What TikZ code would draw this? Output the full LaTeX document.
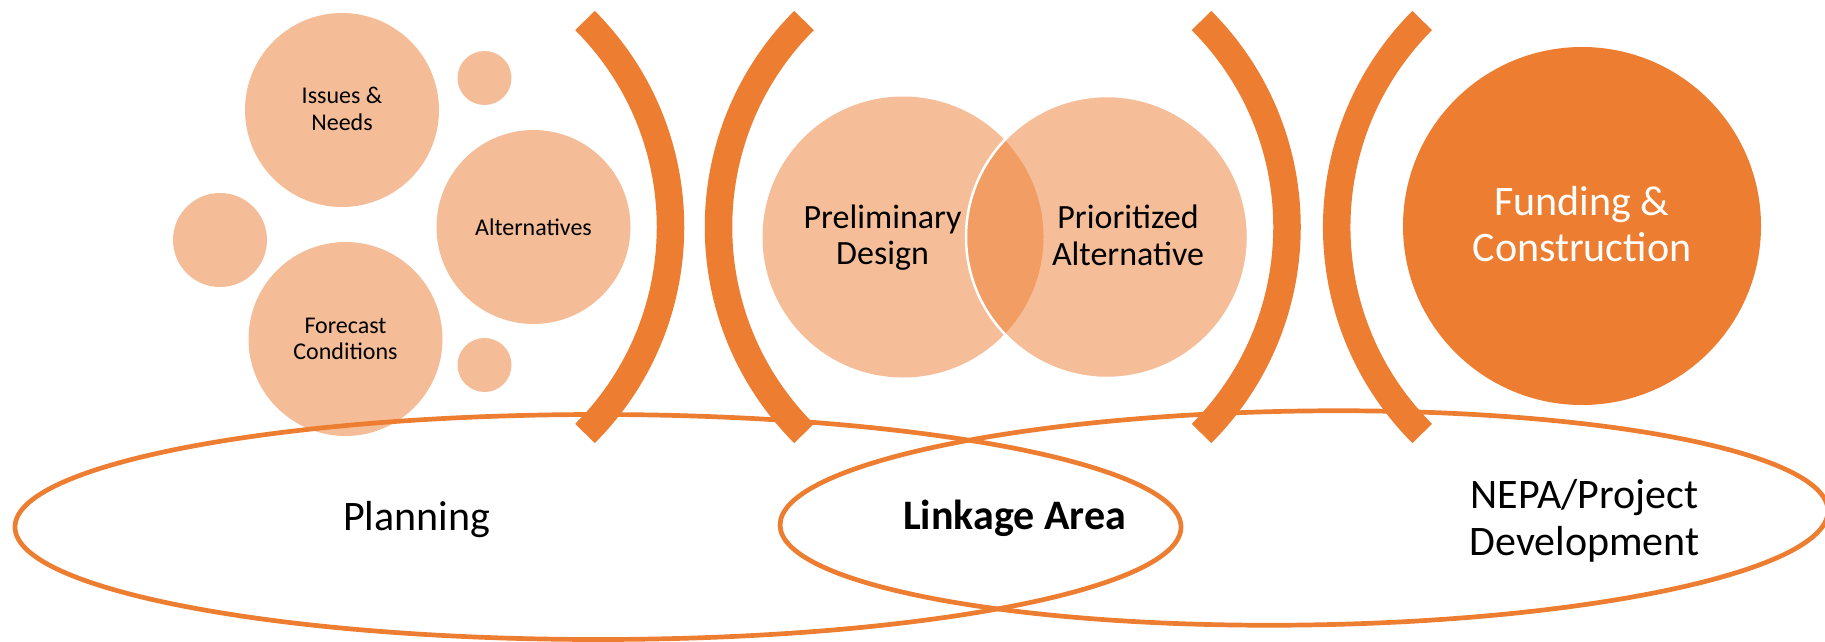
\documentclass[tikz,border=0pt]{standalone}
\usepackage{fontspec}
\setmainfont{Carlito}
\definecolor{acc}{HTML}{ED7D31}
\definecolor{lite}{HTML}{F5BD97}
\begin{document}
\begin{tikzpicture}[x=1pt,y=-1pt,
  blob/.style={circle, fill=lite, draw=none, inner sep=0pt, outer sep=0pt, minimum size=#1},
  venn/.style={circle, fill=acc, fill opacity=0.5, inner sep=0pt, outer sep=0pt, minimum size=#1},
  bigblob/.style={circle, fill=acc, inner sep=0pt, outer sep=0pt, minimum size=#1},
  small/.style={align=center, inner sep=0pt, font=\fontsize{24}{26.7}\selectfont},
  mid/.style={align=center, inner sep=0pt, font=\fontsize{34}{36.7}\selectfont},
  large/.style={align=center, inner sep=0pt, font=\fontsize{42}{46.5}\selectfont},
  ring/.style={draw=acc, line width=4.7pt},
  brk/.style={draw=acc, line width=27.5pt, line cap=butt}]
\useasboundingbox (0,0) rectangle (1825,642);

% planning bubbles
\node[blob=194pt] (issues) at (342,110) {};
\node[blob=194pt] (alts) at (533.5,227) {};
\node[blob=194pt] (fore) at (345.5,339) {};
\node[blob=94pt] (sleft) at (220,240) {};
\node[blob=54pt] (stop) at (484.5,78) {};
\node[blob=54pt] (sbot) at (484.5,365) {};
\node[small] (tissues) at (342,109) {Issues \&\\Needs};
\node[small] (talts) at (533.5,227) {Alternatives};
\node[small] (tfore) at (345.5,339) {Forecast\\Conditions};

% venn
\node[venn=281pt] (prel) at (903,237) {};
\node[venn=282pt, draw=white, draw opacity=1, line width=2.5pt] (prio) at (1107,237) {};
\node[mid] (tprel) at (882.6,237.5) {Preliminary\\Design};
\node[mid] (tprio) at (1128,235.5) {Prioritized\\Alternative};

% funding
\node[bigblob=358pt] (fund) at (1582,226) {};
\node[large, text=white] (tfund) at (1582,224) {Funding \&\\Construction};

% ellipses
\draw[ring] (598,527) ellipse[x radius=583, y radius=112.5];
\draw[ring, rotate around={0.8:(1304,518)}] (1304,518) ellipse[x radius=524, y radius=107];

% brackets
\coordinate (b1) at (378.5,227);
\coordinate (b2) at (1010.5,227);
\coordinate (b3) at (995,227);
\coordinate (b4) at (1628.7,227);
\draw[brk] ([shift={(-45:292)}]b1) arc[start angle=-45, end angle=45, radius=292];
\draw[brk] ([shift={(225:292)}]b2) arc[start angle=225, end angle=135, radius=292];
\draw[brk] ([shift={(-45:292)}]b3) arc[start angle=-45, end angle=45, radius=292];
\draw[brk] ([shift={(225:292)}]b4) arc[start angle=225, end angle=135, radius=292];

% ellipse labels
\node[large, anchor=base] (tplan) at (416.7,530) {Planning};
\node[large, anchor=base, font=\fontsize{42}{46.5}\selectfont\bfseries] (tlink) at (1014.6,529.5) {Linkage Area};
\node[large] (tnepa) at (1584.5,521) {NEPA/Project\\Development};
\end{tikzpicture}
\end{document}
